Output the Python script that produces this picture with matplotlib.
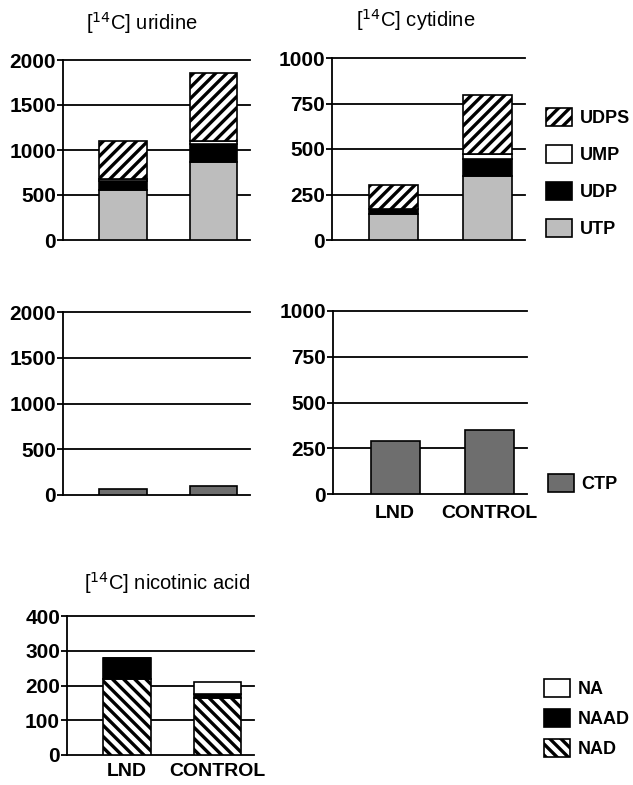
import matplotlib
matplotlib.use("Agg")
import matplotlib.pyplot as plt
from matplotlib.patches import Patch

plt.rcParams["font.family"] = ["Liberation Sans", "DejaVu Sans"]
plt.rcParams["hatch.linewidth"] = 2.4

# data
groups = ["LND", "CONTROL"]

# [14C] uridine, stacked from bottom
uri_utp = [560, 870]
uri_udp = [95, 195]
uri_ump = [20, 35]
uri_udps = [430, 760]
uri_ctp = [65, 98]

# [14C] cytidine
cyt_utp = [143, 352]
cyt_udp = [27, 94]
cyt_ump = [3, 26]
cyt_udps = [130, 322]
cyt_ctp = [290, 350]

# [14C] nicotinic acid
nic_nad = [218, 165]
nic_naad = [60, 11]
nic_na = [0, 33]

UTP_C = "#bdbdbd"
CTP_C = "#6e6e6e"

W, H = 633, 785
fig = plt.figure(figsize=(W / 100, H / 100), dpi=100)


def make_ax(left, right, top, bottom):
    return fig.add_axes([left / W, (H - bottom) / H, (right - left) / W, (bottom - top) / H])


def style(ax, ymax, step):
    ticks = list(range(0, ymax + 1, step))
    ax.set_ylim(0, ymax)
    ax.set_xlim(-0.66, 1.4)
    ax.set_yticks(ticks)
    ax.set_yticklabels([str(t) for t in ticks], fontsize=15, fontweight="bold")
    for t in ticks:
        ax.axhline(t, color="black", lw=1.3, zorder=0, clip_on=False)
    for s in ["top", "right", "bottom"]:
        ax.spines[s].set_visible(False)
    ax.spines["left"].set_linewidth(1.3)
    ax.tick_params(axis="y", direction="out", length=4, width=1.3, pad=1)
    ax.tick_params(axis="x", length=0)
    ax.set_xticks([0, 1])
    ax.set_xticklabels([])


def stack(ax, layers):
    x = [0, 1]
    base = [0, 0]
    for vals, color, hatch in layers:
        ax.bar(x, vals, width=0.52, bottom=base, color=color, hatch=hatch,
               edgecolor="black", linewidth=1.2, zorder=2)
        base = [b + v for b, v in zip(base, vals)]


# top left: uridine
ax1 = make_ax(63, 250, 60, 240)
stack(ax1, [(uri_utp, UTP_C, None), (uri_udp, "black", None),
            (uri_ump, "white", None), (uri_udps, "white", "///")])
style(ax1, 2000, 500)
fig.text(142 / W, 1 - 23 / H, "[$^{14}$C] uridine", ha="center", va="center", fontsize=14.5)

# top right: cytidine
ax2 = make_ax(332, 525, 58, 240)
stack(ax2, [(cyt_utp, UTP_C, None), (cyt_udp, "black", None),
            (cyt_ump, "white", None), (cyt_udps, "white", "///")])
style(ax2, 1000, 250)
fig.text(416 / W, 1 - 20 / H, "[$^{14}$C] cytidine", ha="center", va="center", fontsize=14.5)

# middle: CTP
ax3 = make_ax(63, 250, 312, 495)
ax3.bar([0, 1], uri_ctp, width=0.52, color=CTP_C, edgecolor="black", linewidth=1.2, zorder=2)
style(ax3, 2000, 500)

ax4 = make_ax(333, 527, 311, 494)
ax4.bar([0, 1], cyt_ctp, width=0.52, color=CTP_C, edgecolor="black", linewidth=1.2, zorder=2)
style(ax4, 1000, 250)
ax4.set_xticklabels(groups, fontsize=14, fontweight="bold")
ax4.tick_params(axis="x", pad=8)

# bottom: nicotinic acid
ax5 = make_ax(67, 254, 616, 755)
stack(ax5, [(nic_nad, "white", "\\\\\\"), (nic_naad, "black", None), (nic_na, "white", None)])
style(ax5, 400, 100)
ax5.set_xticklabels(groups, fontsize=14, fontweight="bold")
ax5.tick_params(axis="x", pad=6)
fig.text(167 / W, 1 - 583 / H, "[$^{14}$C] nicotinic acid", ha="center", va="center", fontsize=14.5)

# legends
leg_kw = dict(frameon=False, handlelength=1.45, handleheight=1.15, handletextpad=0.4,
              prop={"weight": "bold", "size": 13}, borderaxespad=0, borderpad=0)

h1 = [Patch(facecolor="white", edgecolor="black", hatch="///", lw=1.2),
      Patch(facecolor="white", edgecolor="black", lw=1.2),
      Patch(facecolor="black", edgecolor="black", lw=1.2),
      Patch(facecolor=UTP_C, edgecolor="black", lw=1.2)]
fig.legend(h1, ["UDPS", "UMP", "UDP", "UTP"], loc="upper left",
           bbox_to_anchor=(546 / W, 1 - 108 / H), labelspacing=1.0, **leg_kw)

h2 = [Patch(facecolor=CTP_C, edgecolor="black", lw=1.2)]
fig.legend(h2, ["CTP"], loc="upper left",
           bbox_to_anchor=(548 / W, 1 - 474 / H), **leg_kw)

h3 = [Patch(facecolor="white", edgecolor="black", lw=1.2),
      Patch(facecolor="black", edgecolor="black", lw=1.2),
      Patch(facecolor="white", edgecolor="black", hatch="\\\\\\", lw=1.2)]
fig.legend(h3, ["NA", "NAAD", "NAD"], loc="upper left",
           bbox_to_anchor=(544 / W, 1 - 679 / H), labelspacing=0.6, **leg_kw)

fig.savefig("out.png", dpi=100)
